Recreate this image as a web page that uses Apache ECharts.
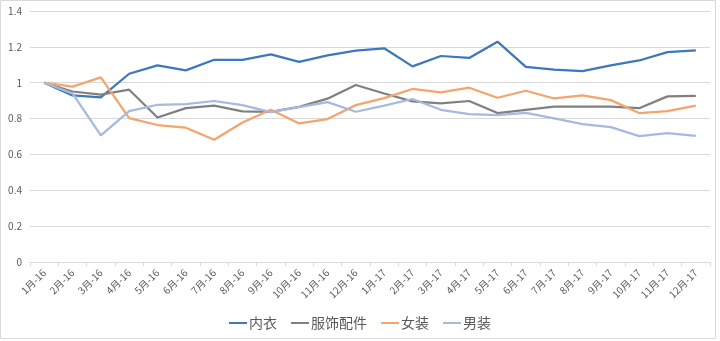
<!DOCTYPE html>
<html><head><meta charset="utf-8">
<script src="https://cdn.jsdelivr.net/npm/echarts@6/dist/echarts.min.js"></script>
<style>html,body{margin:0;padding:0;background:#fff}#c{width:720px;height:341px}</style>
</head><body><div id="c"></div>
<script>
var categories = ['1月-16','2月-16','3月-16','4月-16','5月-16','6月-16','7月-16','8月-16','9月-16','10月-16','11月-16','12月-16',
  '1月-17','2月-17','3月-17','4月-17','5月-17','6月-17','7月-17','8月-17','9月-17','10月-17','11月-17','12月-17'];
var neiyi = [1,0.929,0.918,1.05,1.097,1.069,1.128,1.127,1.158,1.116,1.153,1.179,1.192,1.091,1.149,1.138,1.229,1.088,1.073,1.065,1.097,1.124,1.171,1.18];
var fushi = [1,0.951,0.933,0.961,0.806,0.858,0.872,0.84,0.838,0.865,0.911,0.987,0.94,0.896,0.885,0.898,0.831,0.849,0.866,0.866,0.866,0.858,0.924,0.927];
var nvzhuang = [1,0.978,1.03,0.803,0.764,0.749,0.682,0.778,0.849,0.773,0.797,0.875,0.914,0.965,0.946,0.972,0.916,0.955,0.912,0.929,0.903,0.831,0.842,0.872];
var nanzhuang = [1,0.94,0.706,0.842,0.877,0.881,0.898,0.875,0.836,0.864,0.892,0.838,0.872,0.909,0.849,0.825,0.819,0.832,0.801,0.769,0.752,0.702,0.719,0.704];
var seriesNames = ['内衣','服饰配件','女装','男装'];
var yTicks = {min:0, max:1.4, interval:0.2};

var colors = ['#3B78BE','#808080','#F4A46C','#A7B9DE'];
var dataArr = [neiyi, fushi, nvzhuang, nanzhuang];
var chart = echarts.init(document.getElementById('c'));
chart.setOption({
  animation:false,
  color: colors,
  textStyle:{fontFamily:'"Noto Sans CJK SC", "Noto Sans", sans-serif'},
  graphic:[{type:'rect', shape:{x:0.5,y:0.5,width:715,height:338}, style:{fill:'none', stroke:'#D9D9D9', lineWidth:1}, silent:true}],
  grid:{left:30, right:10, top:11, bottom:79},
  legend:{
    bottom:6, left:'center', itemWidth:18, itemHeight:2, itemGap:14,
    icon:'rect',
    textStyle:{color:'#595959', fontSize:14, padding:[0,0,0,-3]},
    data: seriesNames
  },
  xAxis:{
    type:'category', data:categories, boundaryGap:true,
    axisLine:{lineStyle:{color:'#D9D9D9'}},
    axisTick:{show:true, length:4, lineStyle:{color:'#D9D9D9'}},
    axisLabel:{rotate:45, fontSize:10, color:'#595959', margin:9, interval:0}
  },
  yAxis:{
    type:'value', min:yTicks.min, max:yTicks.max, interval:yTicks.interval,
    axisLine:{show:false}, axisTick:{show:false},
    splitLine:{lineStyle:{color:'#D9D9D9'}},
    axisLabel:{fontSize:10, color:'#595959', margin:8,
      formatter:function(v){return String(Math.round(v*10)/10);}}
  },
  series: seriesNames.map(function(n,i){
    return {name:n, type:'line', data:dataArr[i], symbol:'none', smooth:false,
      lineStyle:{width:2.25, color:colors[i]}, itemStyle:{color:colors[i]}};
  })
});
</script></body></html>
